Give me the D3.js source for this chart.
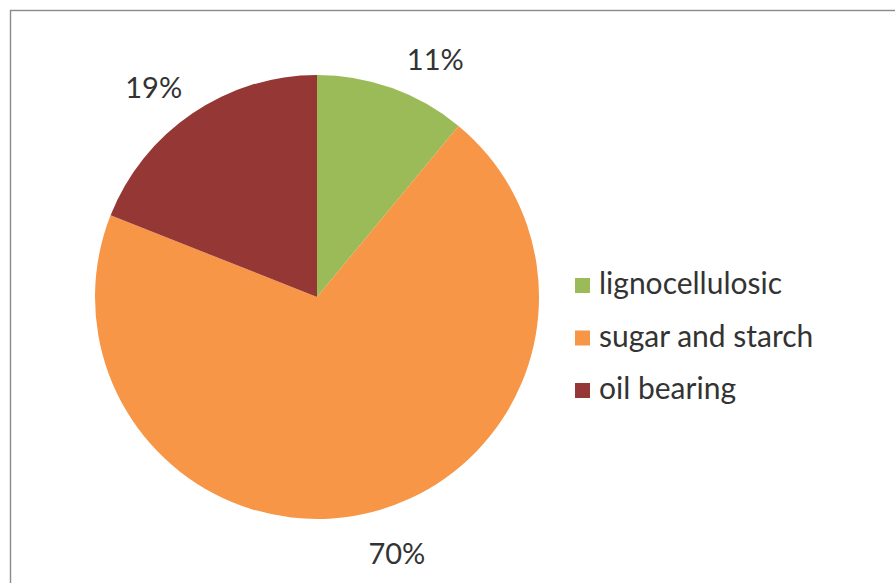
<!DOCTYPE html>
<html>
<head>
<meta charset="utf-8">
<script src="https://cdn.jsdelivr.net/npm/d3@7"></script>
<style>
  html, body { margin: 0; padding: 0; background: #fff; }
  svg { display: block; }
  text { font-family: Lato, "Open Sans", sans-serif; fill: #333; }
</style>
</head>
<body>
<svg id="chart" width="895" height="583"></svg>
<script>
// Feedstock shares (%)
const categories = ["lignocellulosic", "sugar and starch", "oil bearing"];
const shares = [11, 70, 19];
const colors = ["#9BBB59", "#F79646", "#953735"];

const W = 895, H = 583;
const cx = 317, cy = 297, radius = 222;
const labelRadius = 267;
const labelNudgeDeg = [6.5, -3, -3.5];   // best-fit placement tweaks for the outside labels

const svg = d3.select("#chart");

// chart frame (only top/left edges fall inside the view)
svg.append("rect")
  .attr("x", 10.5).attr("y", 10.5)
  .attr("width", W + 20).attr("height", H + 20)
  .attr("fill", "#fff")
  .attr("stroke", "#8a8a8a")
  .attr("stroke-width", 1.4);

const data = categories.map((c, i) => ({ name: c, value: shares[i], color: colors[i] }));

const pie = d3.pie().value(d => d.value).sort(null);
const arcs = pie(data);
const arc = d3.arc().innerRadius(0).outerRadius(radius);

const g = svg.append("g").attr("transform", `translate(${cx},${cy})`);

g.selectAll("path.slice")
  .data(arcs)
  .join("path")
  .attr("class", "slice")
  .attr("d", arc)
  .attr("fill", d => d.data.color);

// percentage labels outside the pie
const labelAngle = (d, i) => (d.startAngle + d.endAngle) / 2 + labelNudgeDeg[i] * Math.PI / 180;
g.selectAll("text.pct")
  .data(arcs)
  .join("text")
  .attr("class", "pct")
  .attr("text-anchor", "middle")
  .attr("dominant-baseline", "central")
  .attr("font-size", 29)
  .attr("x", (d, i) => labelRadius * Math.sin(labelAngle(d, i)))
  .attr("y", (d, i) => -labelRadius * Math.cos(labelAngle(d, i)) + 1)
  .text(d => d.data.value + "%");

// legend
const legendY = d3.scalePoint().domain(categories).range([285.5, 390.5]);
const legend = svg.append("g");
const items = legend.selectAll("g")
  .data(data)
  .join("g")
  .attr("transform", d => `translate(575,${legendY(d.name)})`);

items.append("rect")
  .attr("x", 0).attr("y", -7.5)
  .attr("width", 15).attr("height", 15)
  .attr("fill", d => d.color);

items.append("text")
  .attr("x", 24).attr("y", 8.5)
  .attr("font-size", 30)
  .text(d => d.name);
</script>
</body>
</html>
